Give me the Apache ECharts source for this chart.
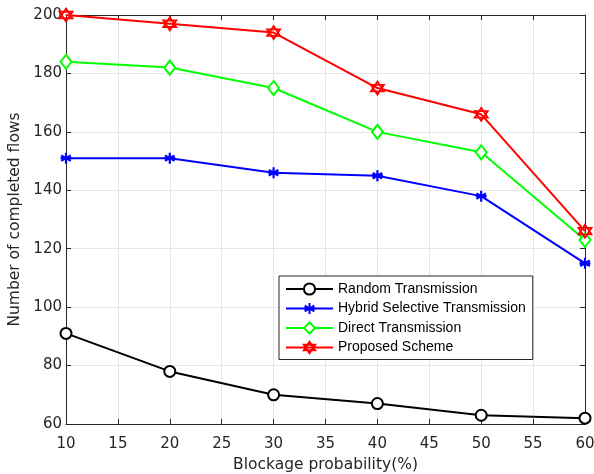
<!DOCTYPE html>
<html>
<head>
<meta charset="utf-8">
<script src="https://cdn.jsdelivr.net/npm/echarts@6/dist/echarts.min.js"></script>
<style>html,body{margin:0;padding:0;background:#fff;}#c{width:594px;height:474px;}</style>
</head>
<body>
<div id="c"></div>
<script>
const blockage = [10, 20, 30, 40, 50, 60];
const randomTx = [91, 78, 70, 67, 63, 62];
const hybridTx = [151, 151, 146, 145, 138, 115];
const directTx = [184, 182, 175, 160, 153, 123];
const proposed = [200, 197, 194, 175, 166, 126];
const names = ['Random Transmission', 'Hybrid Selective Transmission', 'Direct Transmission', 'Proposed Scheme'];

const pairs = arr => blockage.map((x, i) => [x, arr[i]]);
const AX = '#262626';
const FONT = 'DejaVu Sans';
const asterisk = 'path://M0,-1L0,1M-0.866,-0.5L0.866,0.5M-0.866,0.5L0.866,-0.5M-1,0L1,0';
const hexagram = 'path://M0,-1L0.866,0.5L-0.866,0.5ZM0,1L-0.866,-0.5L0.866,-0.5Z';

const chart = echarts.init(document.getElementById('c'), null, {renderer: 'canvas'});
const boxAxis = {
  axisLine: {show: true, lineStyle: {color: AX, width: 1}},
  axisTick: {show: true, inside: true, length: 5, lineStyle: {color: AX}},
  axisLabel: {show: false},
  splitLine: {show: false}
};
chart.setOption({
  animation: false,
  backgroundColor: '#fff',
  grid: {left: 66, right: 9, top: 15, bottom: 50, containLabel: false, outerBoundsMode: 'none'},
  xAxis: [{
    type: 'value', min: 10, max: 60, interval: 5, position: 'bottom',
    name: 'Blockage probability(%)', nameLocation: 'middle', nameGap: 33,
    nameTextStyle: {fontFamily: FONT, fontSize: 15.5, color: AX},
    axisLine: {show: true, lineStyle: {color: AX, width: 1}},
    axisTick: {show: true, inside: true, length: 5, lineStyle: {color: AX}},
    axisLabel: {fontFamily: FONT, fontSize: 15, color: AX, margin: 13},
    splitLine: {show: true, lineStyle: {color: '#e6e6e6', width: 1}}
  }, Object.assign({type: 'value', min: 10, max: 60, interval: 5, position: 'top'}, boxAxis)],
  yAxis: [{
    type: 'value', min: 60, max: 200, interval: 20, position: 'left',
    name: 'Number of completed flows', nameLocation: 'middle', nameGap: 42,
    nameTextStyle: {fontFamily: FONT, fontSize: 15.5, color: AX},
    axisLine: {show: true, lineStyle: {color: AX, width: 1}},
    axisTick: {show: true, inside: true, length: 5, lineStyle: {color: AX}},
    axisLabel: {fontFamily: FONT, fontSize: 15, color: AX, margin: 4},
    splitLine: {show: true, lineStyle: {color: '#e6e6e6', width: 1}}
  }, Object.assign({type: 'value', min: 60, max: 200, interval: 20, position: 'right'}, boxAxis)],
  legend: {
    orient: 'vertical', left: 279, top: 276,
    padding: [6, 7, 5, 6], itemGap: 5.5, itemWidth: 47, itemHeight: 14,
    backgroundColor: '#fff', borderColor: AX, borderWidth: 1, borderRadius: 0,
    textStyle: {fontFamily: 'Liberation Sans', fontSize: 14, color: '#000', lineHeight: 14},
    data: names
  },
  series: [
    {name: names[0], type: 'line', data: pairs(randomTx), symbol: 'emptyCircle', symbolSize: 11,
     lineStyle: {color: '#000', width: 2}, itemStyle: {color: '#000', borderColor: '#000', borderWidth: 1.8}},
    {name: names[1], type: 'line', data: pairs(hybridTx), symbol: asterisk, symbolSize: 11,
     lineStyle: {color: '#0000ff', width: 2}, itemStyle: {color: '#0000ff', borderColor: '#0000ff', borderWidth: 2.2}},
    {name: names[2], type: 'line', data: pairs(directTx), symbol: 'emptyDiamond', symbolSize: [11, 14],
     lineStyle: {color: '#00ff00', width: 2}, itemStyle: {color: '#00ff00', borderColor: '#00ff00', borderWidth: 1.8}},
    {name: names[3], type: 'line', data: pairs(proposed), symbol: hexagram, symbolSize: 13,
     lineStyle: {color: '#ff0000', width: 2}, itemStyle: {color: 'rgba(255,255,255,0)', borderColor: '#ff0000', borderWidth: 1.8}}
  ]
});
</script>
</body>
</html>
